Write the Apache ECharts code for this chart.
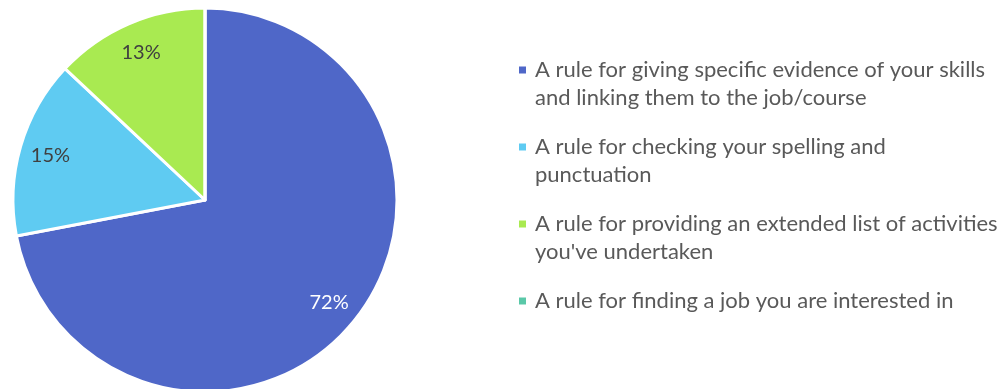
<!DOCTYPE html>
<html>
<head>
<meta charset="utf-8">
<script src="https://cdn.jsdelivr.net/npm/echarts@6/dist/echarts.min.js"></script>
<style>
html,body{margin:0;padding:0;background:#fff;}
#chart{width:1008px;height:389px;}
</style>
</head>
<body>
<div id="chart"></div>
<script>
const categories = [
  "A rule for giving specific evidence of your skills and linking them to the job/course",
  "A rule for checking your spelling and punctuation",
  "A rule for providing an extended list of activities you've undertaken",
  "A rule for finding a job you are interested in"
];
const legendLines = [
  ["A rule for giving specific evidence of your skills", "and linking them to the job/course"],
  ["A rule for checking your spelling and", "punctuation"],
  ["A rule for providing an extended list of activities", "you've undertaken"],
  ["A rule for finding a job you are interested in"]
];
const values = [72, 15, 13, 0];
const colors = ["#4F67C8", "#5FCBF2", "#A9EA51", "#5AC8A8"];
const labelColors = ["#ffffff", "#404040", "#404040", "#404040"];

const FONT = "Lato";
const LINE_H = 28;
const LEGEND_FS = 22;

const chart = echarts.init(document.getElementById('chart'), null, {renderer: 'canvas'});

const mainData = categories.map((c, i) => ({
  name: c, value: values[i], itemStyle: {color: colors[i]}
}));
const labelData = categories.map((c, i) => ({
  name: c, value: values[i],
  label: {show: values[i] > 0, color: labelColors[i]}
}));

chart.setOption({
  animation: false,
  legend: {
    orient: 'vertical',
    left: 517,
    top: 28,
    padding: 0,
    itemWidth: 9,
    itemHeight: 9,
    itemGap: -7,
    icon: 'rect',
    selectedMode: false,
    data: categories.map((c, i) => ({
      name: c,
      textStyle: {padding: [LINE_H, 0, LINE_H * (2 - legendLines[i].length), 3]}
    })),
    formatter: function (name) {
      return legendLines[categories.indexOf(name)].map(l => '{t|' + l + '}').join('\n');
    },
    textStyle: {
      fontFamily: FONT,
      fontSize: LEGEND_FS,
      color: '#595959',
      lineHeight: LINE_H,
      rich: {
        t: {fontFamily: FONT, fontSize: LEGEND_FS, color: '#595959', lineHeight: LINE_H}
      }
    }
  },
  series: [
    {
      type: 'pie',
      center: [205, 200],
      radius: 192,
      startAngle: 90,
      clockwise: true,
      label: {show: false},
      labelLine: {show: false},
      itemStyle: {borderColor: '#ffffff', borderWidth: 3},
      emphasis: {disabled: true},
      data: mainData
    },
    {
      type: 'pie',
      center: [205, 200],
      radius: [124, 192],
      startAngle: 90,
      clockwise: true,
      silent: true,
      legendHoverLink: false,
      itemStyle: {color: 'rgba(0,0,0,0)'},
      label: {
        show: true,
        position: 'inside',
        formatter: '{d}%',
        fontFamily: FONT,
        fontSize: 20
      },
      labelLine: {show: false},
      percentPrecision: 0,
      emphasis: {disabled: true},
      data: labelData
    }
  ]
});
</script>
</body>
</html>
